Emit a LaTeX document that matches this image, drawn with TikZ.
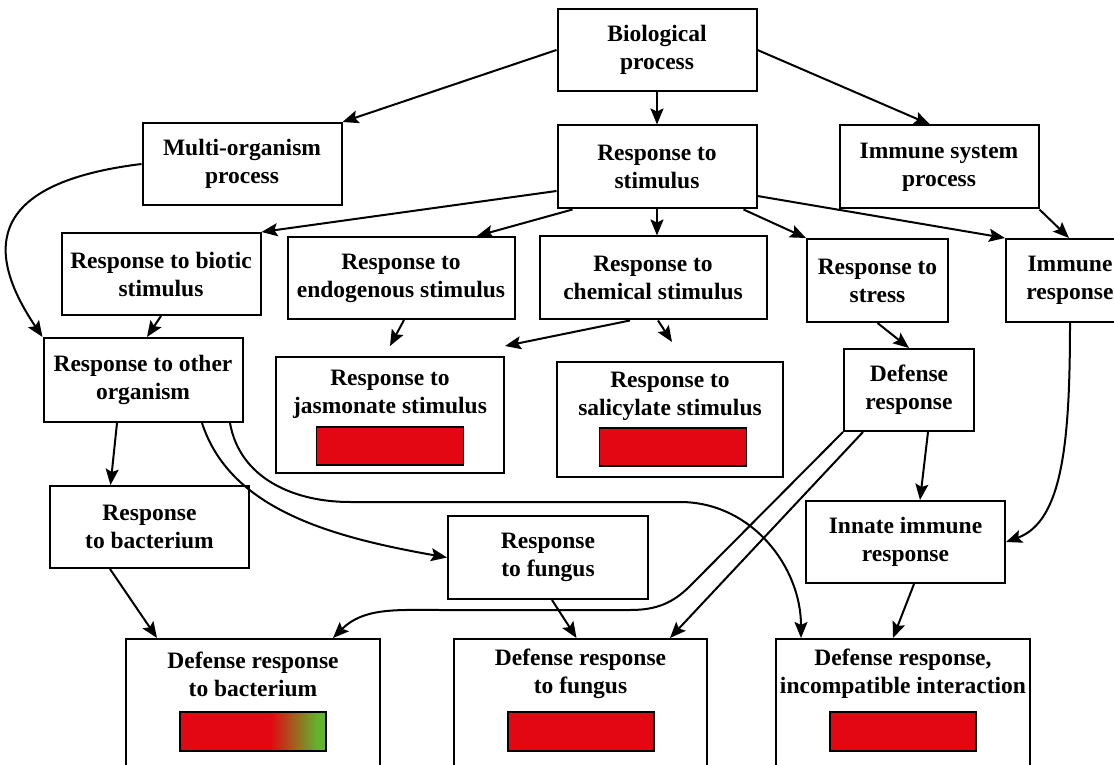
\documentclass[tikz,border=0pt]{standalone}
\usepackage{fontspec}
\setmainfont{Liberation Serif}
\usetikzlibrary{arrows.meta,calc}
\definecolor{barred}{RGB}{227,6,19}
\definecolor{bargreen}{RGB}{98,180,46}
\pgfdeclarehorizontalshading{redtogreen}{100bp}{color(0bp)=(barred); color(25bp)=(barred); color(55.8bp)=(barred); color(71.9bp)=(bargreen); color(100bp)=(bargreen)}

\begin{document}
\begin{tikzpicture}[x=1pt, y=1pt, >={Stealth[length=16pt,width=13pt,inset=3pt]},
  every node/.style={font=\fontsize{23.5}{28}\selectfont\bfseries},
  box/.style={draw, line width=2pt, align=center, inner sep=0pt, minimum width=199pt, minimum height=82pt},
  boxtitle/.style={align=center, inner sep=0pt},
  valuebar/.style={draw, line width=1.3pt, fill=barred, minimum width=146pt, minimum height=38pt, inner sep=0pt},
  link/.style={->, line width=2pt}]
\useasboundingbox (0,0) rectangle (1114,764);
\clip (0,0) rectangle (1114,764);

\node[box] (bio) at (657,714) {Biological\\process};
\node[box, minimum height=83pt] (stim) at (657,597) {Response to\\stimulus};
\node[box, minimum height=83pt] (isp) at (939,597) {Immune system\\process};
\node[box] (multi) at (242,600) {Multi-organism\\process};
\node[box] (biotic) at (161,490) {Response to biotic\\stimulus};
\node[box, minimum width=227pt] (endo) at (401,486) {Response to\\endogenous stimulus};
\node[box, minimum width=227pt, minimum height=83pt] (chem) at (653,486) {Response to\\chemical stimulus};
\node[box, minimum width=141pt, minimum height=83pt] (stress) at (877.5,483.5) {Response to\\stress};
\node[box, minimum width=128pt, minimum height=83pt] (immune) at (1070,483.5) {Immune\\response};
\node[box, minimum height=84pt] (other) at (143,384) {Response to other\\organism};

\node[box, minimum width=228pt, minimum height=116pt] (jas) at (390,349) {};
\node[boxtitle] (jastxt) at (390,370) {Response to\\jasmonate stimulus};
\node[valuebar, minimum width=147pt] (jasbar) at (390,318) {};

\node[box, minimum width=226pt, minimum height=115pt] (sal) at (670,344.5) {};
\node[boxtitle] (saltxt) at (670,368) {Response to\\salicylate stimulus};
\node[valuebar, minimum width=147pt] (salbar) at (673,317) {};

\node[box, minimum width=130pt] (defr) at (909,374) {Defense\\response};
\node[box] (bact) at (149.5,237) {Response\\to bacterium};
\node[box, minimum width=200pt, minimum height=83pt] (fungus) at (548,206.5) {Response\\to fungus};
\node[box] (innate) at (905.5,222) {Innate immune\\response};

\node[box, minimum width=254pt, minimum height=150pt] (dbact) at (253,50) {};
\node[boxtitle] (dbacttxt) at (253,90) {Defense response\\to bacterium};
\node[valuebar, shade, shading=redtogreen, minimum height=39pt] (dbactbar) at (253,32.5) {};

\node[box, minimum width=253pt, minimum height=150pt] (dfung) at (580.5,50) {};
\node[boxtitle] (dfungtxt) at (580.5,90) {Defense response\\to fungus};
\node[valuebar, minimum height=39pt] (dfungbar) at (581,32.5) {};

\node[box, minimum width=254pt, minimum height=150pt] (dinc) at (903,50) {};
\node[boxtitle] (dinctxt) at (903,90) {Defense response,\\incompatible interaction};
\node[valuebar, minimum height=39pt] (dincbar) at (903,32.5) {};

\draw[link] (bio.west) -- (multi.north east);
\draw[link] (bio.south) -- (stim.north);
\draw[link] (bio.east) -- ([xshift=-9pt]isp.north);
\draw[link] ([yshift=-24pt]stim.west) -- (biotic.north east);
\draw[link] ([xshift=16pt]stim.south west) -- ([xshift=76pt]endo.north);
\draw[link] (stim.south) -- (stim.south |- chem.north);
\draw[link] ([xshift=-14pt]stim.south east) -- (stress.north west);
\draw[link] ([yshift=-29pt]stim.east) -- (immune.north west);
\draw[link] (isp.south east) -- ([xshift=-1pt]immune.north);
\draw[link] (biotic.south) -- ([xshift=4pt]other.north);
\draw[link] (multi.west) .. controls +(187:150) and +(124:110) .. (other.north west);
\draw[link] ([xshift=3pt]endo.south) -- ([yshift=10pt]jas.north);
\draw[link] ([xshift=-23pt]chem.south) -- ([yshift=10pt]jas.north east);
\draw[link] ([xshift=5pt]chem.south) -- ([xshift=2pt,yshift=19pt]sal.north);
\draw[link] (stress.south) -- (defr.north);
\draw[link] ([xshift=19pt]defr.south) -- ([xshift=14.5pt]innate.north);
\draw[link] (immune.south) .. controls +(270:120) and +(20:60) .. (innate.east);
\draw[link] ([xshift=-26pt]other.south) -- ([xshift=-39pt]bact.north);
\draw[link] ([xshift=59pt]other.south) .. controls +(-72:90) and +(170:120) .. (fungus.west);
\draw[link] ([xshift=87pt]other.south) to[out=-80,in=180] (350,262) -- (680,262) to[out=0,in=90] ([xshift=26pt]dinc.north west);
\draw[link] ([xshift=-39.5pt]bact.south) -- ([xshift=-96pt]dbact.north);
\draw[link] ([xshift=4pt]fungus.south) -- ([xshift=-4pt]dfung.north);
\draw[link] (defr.south west) -- (690,178) to[out=225,in=0] (630,154) -- (440,154) to[out=180,in=45] ([xshift=80pt]dbact.north);
\draw[link] ([xshift=-46pt]defr.south) -- ([xshift=89.5pt]dfung.north);
\draw[link] ([xshift=8.5pt]innate.south) -- ([xshift=-10pt]dinc.north);
\end{tikzpicture}
\end{document}
